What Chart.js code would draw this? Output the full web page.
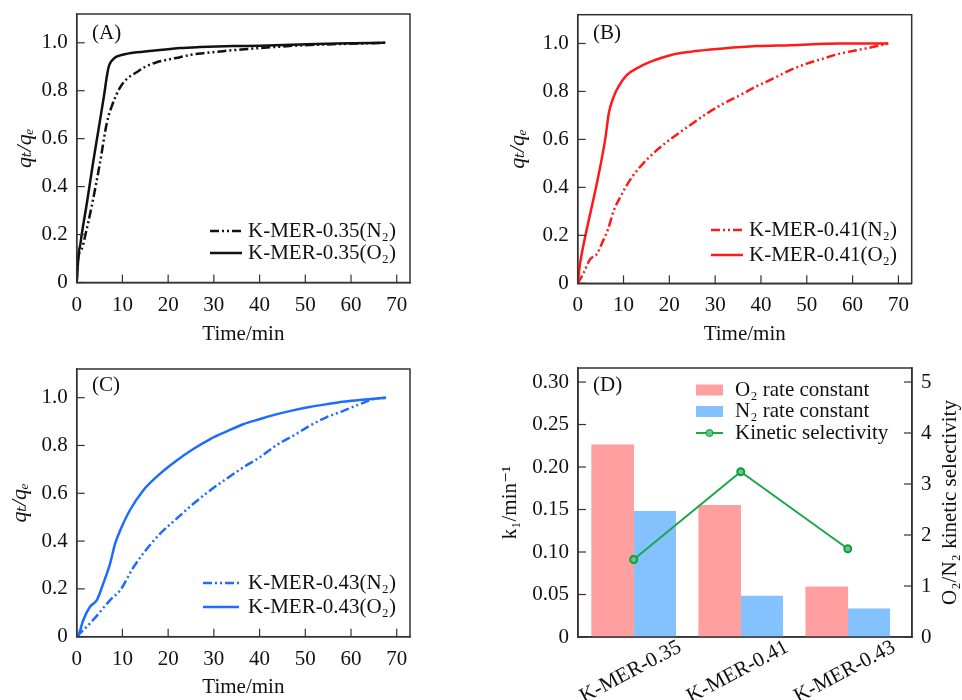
<!DOCTYPE html>
<html>
<head>
<meta charset="utf-8">
<script src="https://cdn.jsdelivr.net/npm/chart.js@4.4.0/dist/chart.umd.min.js"></script>
<style>
  body { margin: 0; background: #fff; }
  #wrap { position: relative; width: 962px; height: 700px; }
  canvas { position: absolute; }
</style>
</head>
<body>
<div id="wrap">
  <canvas id="chartA" width="481" height="350" style="left:0;top:0"></canvas>
  <canvas id="chartB" width="481" height="350" style="left:481px;top:0"></canvas>
  <canvas id="chartC" width="481" height="350" style="left:0;top:350px"></canvas>
  <canvas id="chartD" width="481" height="350" style="left:481px;top:350px"></canvas>
</div>
<script>
// (A) K-MER-0.35
var tA_N2 = [0, 0.3, 0.8, 1.3, 1.8, 3.3, 5.1, 6.6, 7.7, 9.5, 11, 13.1, 15, 17.5, 20, 22.6, 25, 28, 32, 36, 41.6, 48.9, 56, 62, 67.5];
var qA_N2 = [0, 0.1, 0.13, 0.15, 0.19, 0.32, 0.5, 0.667, 0.737, 0.814, 0.85, 0.877, 0.9, 0.919, 0.93, 0.94, 0.95, 0.957, 0.965, 0.972, 0.98, 0.989, 0.994, 0.997, 1.0];
var tA_O2 = [0, 0.2, 0.5, 0.8, 1.1, 2.3, 3.5, 4.7, 5.9, 6.6, 7.0, 7.4, 8, 8.7, 10, 13.1, 16, 20, 22.6, 27, 34.3, 40, 48.9, 57, 67.5];
var qA_O2 = [0, 0.06, 0.13, 0.16, 0.2, 0.34, 0.49, 0.63, 0.77, 0.86, 0.9, 0.918, 0.932, 0.942, 0.95, 0.96, 0.966, 0.973, 0.978, 0.982, 0.986, 0.988, 0.993, 0.997, 1.0];

// (B) K-MER-0.41
var tB_N2 = [0, 1.2, 2.7, 4.1, 5.6, 6.7, 7.8, 9.3, 11.4, 13.6, 17.2, 20.9, 24.5, 28.2, 31.8, 35.4, 39.1, 42.7, 46.4, 50, 53.6, 57.3, 60.9, 64.6, 67.8];
var qB_N2 = [0, 0.04, 0.1, 0.12, 0.18, 0.23, 0.3, 0.36, 0.43, 0.485, 0.554, 0.61, 0.659, 0.708, 0.749, 0.784, 0.822, 0.854, 0.889, 0.916, 0.937, 0.958, 0.972, 0.986, 1.0];
var tB_O2 = [0, 0.5, 1.7, 4.0, 6.0, 6.8, 7.8, 8.9, 10.7, 12.9, 15.8, 20.2, 24.5, 31.8, 39.1, 46.4, 57.3, 67.8];
var qB_O2 = [0, 0.08, 0.2, 0.4, 0.6, 0.71, 0.775, 0.82, 0.868, 0.896, 0.923, 0.951, 0.965, 0.979, 0.989, 0.993, 1.0, 1.0];

// (C) K-MER-0.43
var tC_N2 = [0, 3.6, 7.3, 9.5, 12.4, 14.5, 18.2, 21.8, 25.5, 29.1, 32.7, 36.4, 40, 43.6, 47.3, 50.9, 54.5, 58.2, 61.8, 64.7, 67.6];
var qC_N2 = [0, 0.07, 0.153, 0.194, 0.29, 0.347, 0.43, 0.493, 0.556, 0.611, 0.66, 0.708, 0.75, 0.8, 0.84, 0.882, 0.917, 0.944, 0.972, 0.993, 1.0];
var tC_O2 = [0, 0.4, 1.45, 2.9, 4.4, 5.8, 7.3, 8.4, 9.5, 11.6, 14.5, 18.2, 21.8, 25.5, 29.1, 32.7, 36.4, 40, 43.6, 47.3, 50.9, 54.5, 58.2, 61.8, 67.6];
var qC_O2 = [0, 0.007, 0.07, 0.125, 0.153, 0.222, 0.306, 0.389, 0.444, 0.528, 0.611, 0.681, 0.736, 0.785, 0.826, 0.858, 0.889, 0.91, 0.93, 0.947, 0.961, 0.972, 0.983, 0.99, 1.0];

// (D) rate constants and selectivity
var samples = ['K-MER-0.35', 'K-MER-0.41', 'K-MER-0.43'];
var o2Rate = [0.226, 0.155, 0.059];
var n2Rate = [0.148, 0.048, 0.033];
var selectivity = [1.52, 3.24, 1.73];

var xTicks = [0, 10, 20, 30, 40, 50, 60, 70];
var qTicks = [0, 0.2, 0.4, 0.6, 0.8, 1.0];
var kTicks = [0, 0.05, 0.10, 0.15, 0.20, 0.25, 0.30];
var sTicks = [0, 1, 2, 3, 4, 5];

var SERIF = '"Liberation Serif", "DejaVu Serif", serif';
var W = 481, H = 350;
Chart.defaults.font.family = SERIF;
Chart.defaults.font.size = 21;
Chart.defaults.color = '#111';

function pts(xs, ys) {
  return xs.map(function (x, i) { return { x: x, y: ys[i] }; });
}
function keepTicks(list) {
  return function (s) {
    s.ticks = list.map(function (v) { return { value: v }; });
  };
}
function noPad(s) {
  s.paddingTop = 0; s.paddingBottom = 0; s.paddingLeft = 0; s.paddingRight = 0;
}

// frame, inward ticks, panel letter, legend and extra texts
var panelPlugin = {
  id: 'panel',
  afterDraw: function (chart, args, o) {
    var ctx = chart.ctx, a = chart.chartArea;
    ctx.save();
    ctx.strokeStyle = '#333';
    ctx.lineWidth = 1.2;
    (o.tickAxes || []).forEach(function (k) {
      var s = chart.scales[k];
      s.ticks.forEach(function (t) {
        var p = s.getPixelForValue(t.value);
        ctx.beginPath();
        if (s.position === 'bottom') { ctx.moveTo(p, a.bottom); ctx.lineTo(p, a.bottom - 8); }
        else if (s.position === 'left') { ctx.moveTo(a.left, p); ctx.lineTo(a.left + 8, p); }
        else { ctx.moveTo(a.right, p); ctx.lineTo(a.right - 8, p); }
        ctx.stroke();
      });
    });
    ctx.lineWidth = 1.5;
    ctx.strokeRect(a.left, a.top, a.right - a.left, a.bottom - a.top);

    ctx.fillStyle = '#111';
    ctx.font = '21px ' + SERIF;
    ctx.textBaseline = 'middle';
    ctx.textAlign = 'left';
    ctx.fillText(o.letter, o.letterX, o.letterY);

    chart.data.datasets.forEach(function (ds, i) {
      var y = o.legY + i * o.legGap;
      if (!ds.type && chart.config.type === 'bar') {
        ctx.fillStyle = ds.backgroundColor;
        ctx.fillRect(o.legX, y - 5.5, o.legW, 11);
      } else {
        ctx.strokeStyle = ds.borderColor;
        ctx.lineWidth = ds.borderWidth;
        ctx.setLineDash(ds.borderDash || []);
        ctx.beginPath();
        ctx.moveTo(o.legX, y);
        ctx.lineTo(o.legX + o.legW, y);
        ctx.stroke();
        ctx.setLineDash([]);
        if (ds.pointRadius) {
          ctx.fillStyle = ds.pointBackgroundColor;
          ctx.strokeStyle = ds.pointBorderColor;
          ctx.lineWidth = 1;
          ctx.beginPath();
          ctx.arc(o.legX + o.legW / 2, y, ds.pointRadius, 0, Math.PI * 2);
          ctx.fill();
          ctx.stroke();
        }
      }
      ctx.fillStyle = '#111';
      ctx.fillText(ds.label, o.legX + o.legW + o.legTextGap, y);
    });

    if (o.catLabels) {
      var xs = chart.scales.x;
      ctx.textAlign = 'center';
      o.catLabels.forEach(function (lab, i) {
        ctx.save();
        ctx.translate(xs.getPixelForValue(i) - 3, a.bottom + 35);
        ctx.rotate(-28 * Math.PI / 180);
        ctx.fillText(lab, 0, 0);
        ctx.restore();
      });
    }
    if (o.rightTitle) {
      ctx.save();
      ctx.translate(o.rightTitleX, (a.top + a.bottom) / 2);
      ctx.rotate(-Math.PI / 2);
      ctx.textAlign = 'center';
      ctx.fillText(o.rightTitle, 0, 0);
      ctx.restore();
    }
    ctx.restore();
  }
};

function axisBase() {
  return {
    grid: { display: false, drawTicks: false },
    border: { display: true, color: '#333', width: 1.5 },
    ticks: { padding: 9, color: '#111' }
  };
}

function kinetics(id, letter, color, n2, o2, names, box, leg) {
  var x = axisBase(), y = axisBase();
  x.type = 'linear'; x.min = 0; x.max = 72.9;
  x.afterBuildTicks = keepTicks(xTicks);
  x.afterFit = function (s) { noPad(s); s.height = H - box.b; };
  x.ticks.padding = 10;
  x.ticks.callback = function (v) { return String(v); };
  x.title = { display: true, text: 'Time/min', padding: { top: 0, bottom: box.xt } };
  y.min = 0; y.max = 1.12;
  y.afterBuildTicks = keepTicks(qTicks);
  y.afterFit = function (s) { noPad(s); s.width = box.l; };
  y.ticks.callback = function (v) { return v === 0 ? '0' : v.toFixed(1); };
  y.title = { display: true, text: 'qₜ/qₑ', font: { size: 22, style: 'italic' }, padding: { top: box.yt, bottom: 0 } };

  return new Chart(document.getElementById(id), {
    type: 'line',
    data: {
      datasets: [
        { label: names[0], data: n2, borderColor: color, borderWidth: 2.5, borderDash: [9, 3, 2, 3, 2, 3],
          pointRadius: 0, cubicInterpolationMode: 'monotone' },
        { label: names[1], data: o2, borderColor: color, borderWidth: 2.5,
          pointRadius: 0, cubicInterpolationMode: 'monotone' }
      ]
    },
    options: {
      responsive: false,
      animation: false,
      layout: { padding: { left: 0, top: box.t, right: W - box.r, bottom: 0 } },
      plugins: {
        legend: { display: false },
        tooltip: { enabled: false },
        panel: Object.assign({ letter: letter, tickAxes: ['x', 'y'] }, leg)
      },
      scales: { x: x, y: y }
    },
    plugins: [panelPlugin]
  });
}

kinetics('chartA', '(A)', '#111111', pts(tA_N2, qA_N2), pts(tA_O2, qA_O2),
  ['K-MER-0.35(N₂)', 'K-MER-0.35(O₂)'],
  { l: 76.7, t: 14, r: 410, b: 282.5, yt: 12, xt: 3 },
  { letterX: 92, letterY: 33, legX: 210, legW: 32, legTextGap: 6, legY: 231, legGap: 22 });

kinetics('chartB', '(B)', '#ff1a1a', pts(tB_N2, qB_N2), pts(tB_O2, qB_O2),
  ['K-MER-0.41(N₂)', 'K-MER-0.41(O₂)'],
  { l: 96.7, t: 14.7, r: 430.7, b: 283.3, yt: 24, xt: 3 },
  { letterX: 112, letterY: 33, legX: 230, legW: 32, legTextGap: 6, legY: 230, legGap: 25 });

kinetics('chartC', '(C)', '#1e6bff', pts(tC_N2, qC_N2), pts(tC_O2, qC_O2),
  ['K-MER-0.43(N₂)', 'K-MER-0.43(O₂)'],
  { l: 76.7, t: 19, r: 410, b: 286.7, yt: 7, xt: 0 },
  { letterX: 92, letterY: 35, legX: 203, legW: 36, legTextGap: 9, legY: 233, legGap: 24 });

// (D) bars + selectivity line
(function () {
  var x = axisBase(), y = axisBase(), y2 = axisBase();
  x.type = 'linear'; x.min = -0.52; x.max = 2.6; x.offset = false;
  x.ticks = { display: false };
  x.afterFit = function (s) { noPad(s); s.height = H - 287; };

  y.position = 'left'; y.min = 0; y.max = 0.3165;
  y.afterBuildTicks = keepTicks(kTicks);
  y.afterFit = function (s) { noPad(s); s.width = 97; };
  y.ticks.callback = function (v) { return v === 0 ? '0' : v.toFixed(2); };
  y.title = { display: true, text: 'k₁/min⁻¹', padding: { top: 17, bottom: 0 } };

  y2.position = 'right'; y2.min = 0; y2.max = 5.275;
  y2.afterBuildTicks = keepTicks(sTicks);
  y2.afterFit = function (s) { noPad(s); s.width = W - 431; };
  y2.ticks.callback = function (v) { return String(v); };

  new Chart(document.getElementById('chartD'), {
    type: 'bar',
    data: {
      datasets: [
        { label: 'O₂ rate constant', data: pts([0, 1, 2], o2Rate), backgroundColor: '#ff9f9f',
          barThickness: 42, yAxisID: 'y' },
        { label: 'N₂ rate constant', data: pts([0, 1, 2], n2Rate), backgroundColor: '#84c1ff',
          barThickness: 42, yAxisID: 'y' },
        { type: 'line', label: 'Kinetic selectivity', data: pts([0, 1, 2], selectivity), yAxisID: 'y2',
          borderColor: '#1aa84a', borderWidth: 2, pointRadius: 3.5,
          pointBackgroundColor: '#5ccc80', pointBorderColor: '#149a40', order: -1 }
      ]
    },
    options: {
      responsive: false,
      animation: false,
      layout: { padding: { left: 0, top: 18, right: 0, bottom: 0 } },
      plugins: {
        legend: { display: false },
        tooltip: { enabled: false },
        panel: { letter: '(D)', tickAxes: ['y', 'y2'], letterX: 112, letterY: 35, legX: 215, legW: 27, legTextGap: 12,
          legY: 40, legGap: 21.5, catLabels: samples,
          rightTitle: 'O₂/N₂ kinetic selectivity', rightTitleX: 469 }
      },
      scales: { x: x, y: y, y2: y2 }
    },
    plugins: [panelPlugin]
  });
})();
</script>
</body>
</html>
